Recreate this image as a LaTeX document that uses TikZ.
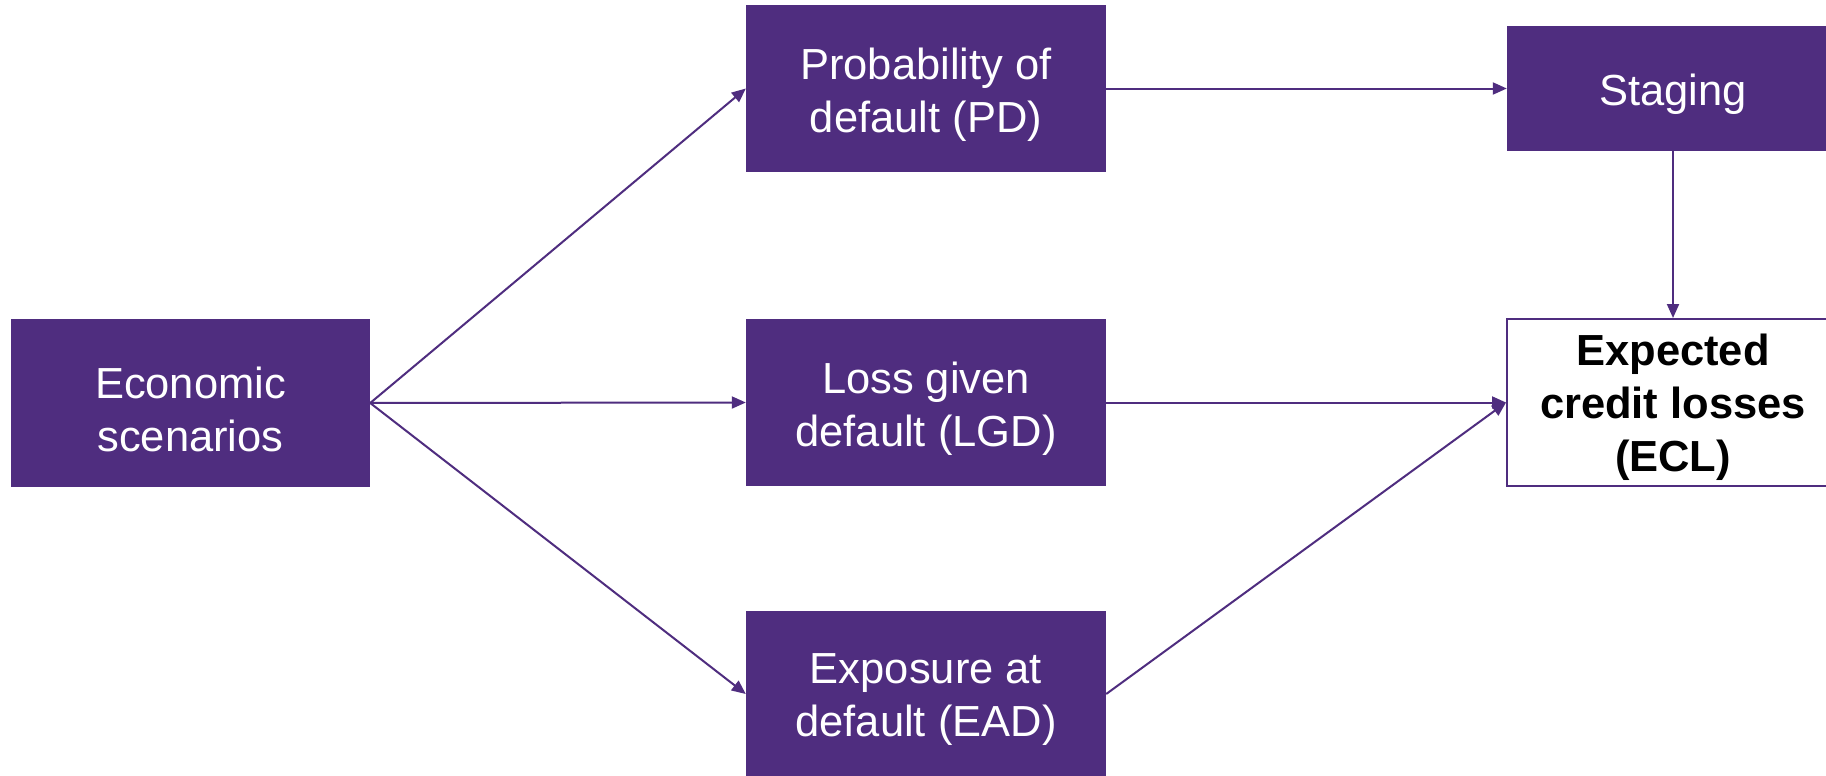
\documentclass[tikz,border=0pt]{standalone}
\usepackage{fontspec}
\setmainfont{Liberation Sans}
\usetikzlibrary{arrows.meta}
\definecolor{gtpurple}{RGB}{79,45,127}
\begin{document}
\begin{tikzpicture}[x=1pt,y=-1pt,
  box/.style={rectangle, fill=gtpurple, draw=none, inner sep=0pt},
  outbox/.style={rectangle, fill=white, draw=gtpurple, line width=2pt, inner sep=0pt},
  lbl/.style={text=white, align=center, inner sep=0pt, yshift=-6pt,
    font=\fontsize{43.5}{53}\selectfont},
  boldlbl/.style={text=black, align=center, inner sep=0pt, yshift=-5pt,
    font=\fontsize{43.5}{53}\selectfont\bfseries},
  link/.style={draw=gtpurple, line width=2pt, -{Triangle[length=14pt,width=12pt]}}]
\clip (0,0) rectangle (1826,776);
\fill[white] (0,0) rectangle (1826,776);

% boxes
\node[box, minimum width=359pt, minimum height=168pt] (econ) at (190.5,403) {};
\node[box, minimum width=360pt, minimum height=167pt] (pd) at (926,88.5) {};
\node[box, minimum width=360pt, minimum height=167pt] (lgd) at (926,402.5) {};
\node[box, minimum width=360pt, minimum height=167pt] (ead) at (926,694) {};
\node[box, minimum width=332pt, minimum height=125pt] (stage) at (1673,88.5) {};
\node[outbox, minimum width=332pt, minimum height=167pt] (ecl) at (1673,402.5) {};

% labels
\node[lbl] (econT) at (econ.center) {Economic\\scenarios};
\node[lbl] (pdT) at (pd.center) {Probability of\\default (PD)};
\node[lbl] (lgdT) at (lgd.center) {Loss given\\default (LGD)};
\node[lbl] (eadT) at (ead.center) {Exposure at\\default (EAD)};
\node[lbl] (stageT) at (stage.center) {Staging};
\node[boldlbl] (eclT) at (ecl.center) {Expected\\credit losses\\(ECL)};

% connectors
\draw[link] (econ.east) -- (pd.west);
\draw[link] (econ.east) -- (lgd.west);
\draw[link] (econ.east) -- (ead.west);
\draw[link] (pd.east) -- (stage.west);
\draw[link] (stage.south) -- (ecl.north);
\draw[link] (lgd.east) -- (ecl.west);
\draw[link] (ead.east) -- (ecl.west);
\end{tikzpicture}
\end{document}
